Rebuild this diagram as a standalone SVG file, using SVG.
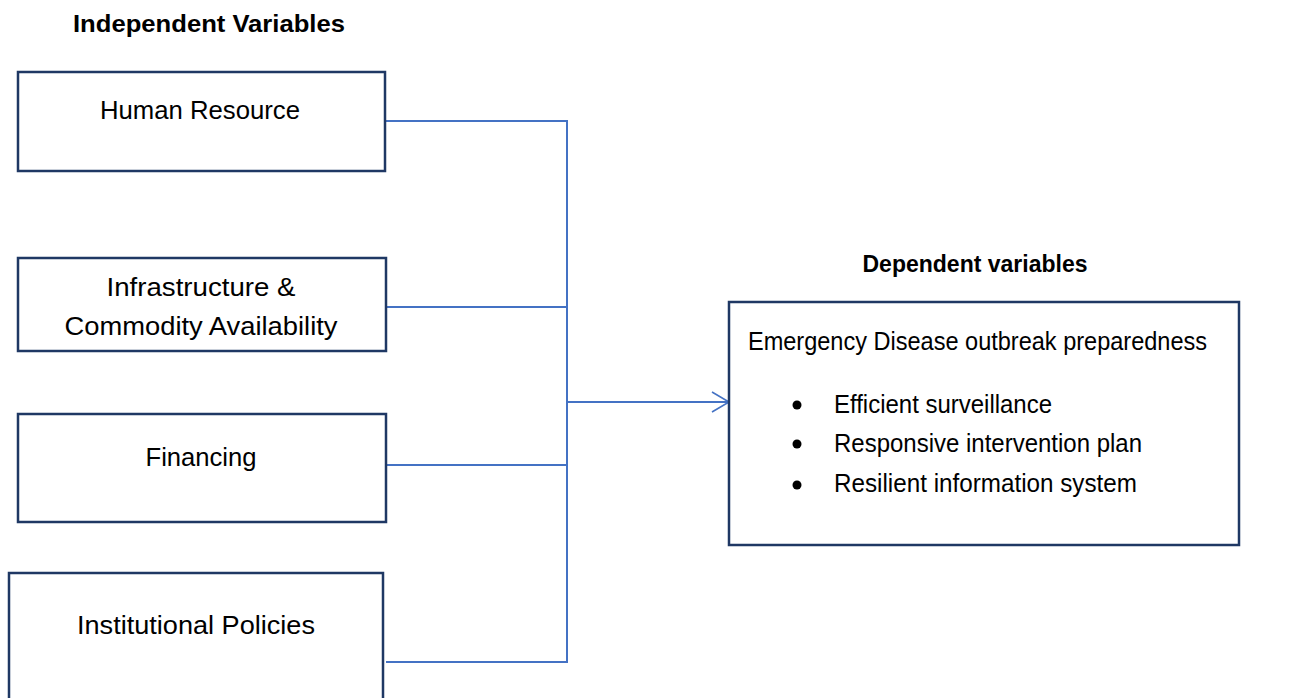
<svg xmlns="http://www.w3.org/2000/svg" width="1301" height="698" viewBox="0 0 1301 698">
<style>
.box{fill:#fff;stroke:#1F3864;stroke-width:2.5}
.t{font-family:"Liberation Sans",Arial,sans-serif;font-size:25px;fill:#000}
.h{font-family:"Liberation Sans",Arial,sans-serif;font-size:24px;font-weight:bold;fill:#000}
.c{fill:none;stroke:#4472C4;stroke-width:2}
</style>
<defs>
<marker id="arr" viewBox="0 0 20 24" refX="18" refY="12" markerWidth="20" markerHeight="24" markerUnits="userSpaceOnUse" orient="auto">
<path d="M1,2 L18,12 L1,22" fill="none" stroke="#4472C4" stroke-width="1.6"/>
</marker>
</defs>
<rect width="1301" height="698" fill="#fff"/>
<text class="h" x="209" y="32" text-anchor="middle" textLength="272" lengthAdjust="spacingAndGlyphs">Independent Variables</text>
<text class="h" x="975" y="272" text-anchor="middle" textLength="225" lengthAdjust="spacingAndGlyphs">Dependent variables</text>
<g id="connectors">
<path class="c" d="M386,121 H567 M386,307 H567 M386,465 H567 M386,662 H567 M567,120 V663"/>
<path class="c" d="M567,402 H729" stroke-width="1.5" marker-end="url(#arr)"/>
</g>
<g id="n1">
<rect class="box" x="18" y="72" width="367" height="99"/>
<text class="t" x="200" y="119" text-anchor="middle" textLength="200" lengthAdjust="spacingAndGlyphs">Human Resource</text>
</g>
<g id="n2">
<rect class="box" x="18" y="258" width="368" height="93"/>
<text class="t" x="201" y="296" text-anchor="middle" textLength="189" lengthAdjust="spacingAndGlyphs">Infrastructure &amp;</text>
<text class="t" x="201" y="335" text-anchor="middle" textLength="273" lengthAdjust="spacingAndGlyphs">Commodity Availability</text>
</g>
<g id="n3">
<rect class="box" x="18" y="414" width="368" height="108"/>
<text class="t" x="201" y="466" text-anchor="middle" textLength="111" lengthAdjust="spacingAndGlyphs">Financing</text>
</g>
<g id="n4">
<rect class="box" x="9" y="573" width="374" height="140"/>
<text class="t" x="196" y="634" text-anchor="middle" textLength="238" lengthAdjust="spacingAndGlyphs">Institutional Policies</text>
</g>
<g id="n5">
<rect class="box" x="729" y="302" width="510" height="243"/>
<text class="t" x="748" y="350" textLength="459" lengthAdjust="spacingAndGlyphs">Emergency Disease outbreak preparedness</text>
<circle cx="797" cy="405" r="4.5" fill="#000"/>
<circle cx="797" cy="444" r="4.5" fill="#000"/>
<circle cx="797" cy="485" r="4.5" fill="#000"/>
<text class="t" x="834" y="413" textLength="218" lengthAdjust="spacingAndGlyphs">Efficient surveillance</text>
<text class="t" x="834" y="452" textLength="308" lengthAdjust="spacingAndGlyphs">Responsive intervention plan</text>
<text class="t" x="834" y="492" textLength="303" lengthAdjust="spacingAndGlyphs">Resilient information system</text>
</g>
</svg>
